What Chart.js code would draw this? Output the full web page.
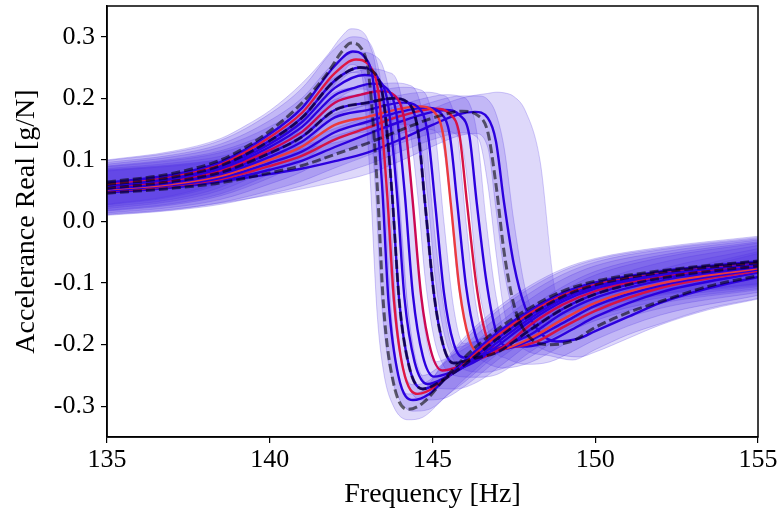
<!DOCTYPE html>
<html><head><meta charset="utf-8">
<script src="https://cdn.jsdelivr.net/npm/chart.js@4.4.0/dist/chart.umd.min.js"></script>
<style>html,body{margin:0;padding:0;background:#fff}#wrap{width:781px;height:513px}</style>
</head><body><div id="wrap"><canvas id="c" width="781" height="513"></canvas></div>
<script>
const xTicks = [135, 140, 145, 150, 155];
const yTicks = [-0.3, -0.2, -0.1, 0, 0.1, 0.2, 0.3];
const yTickLabels = ['-0.3', '-0.2', '-0.1', '0.0', '0.1', '0.2', '0.3'];

// D0 (dashed, lowest level)
const x_D0 = [135,137,138.5,139.3,140,141,141.8,142.2,142.5,142.8,143.05,143.3,143.5,143.8,144.25,144.7,145.3,146,147,148,149,150,152,155];
const y_D0 = [0.064,0.078,0.100,0.122,0.147,0.193,0.243,0.275,0.290,0.282,0.235,0.060,-0.140,-0.262,-0.305,-0.295,-0.260,-0.220,-0.175,-0.140,-0.113,-0.097,-0.080,-0.064];
const hi_D0 = [0.100,0.114,0.135,0.157,0.180,0.225,0.272,0.300,0.313,0.310,0.290,0.230,0.070,-0.190,-0.280,-0.275,-0.232,-0.187,-0.140,-0.104,-0.077,-0.060,-0.042,-0.024];
const lo_D0 = [0.028,0.042,0.065,0.087,0.113,0.160,0.208,0.238,0.255,0.245,0.100,-0.150,-0.245,-0.300,-0.322,-0.318,-0.290,-0.255,-0.210,-0.176,-0.150,-0.134,-0.117,-0.101];

const x_S1 = [135,137,138.5,140,141,142,142.55,142.9,143.2,143.45,143.65,143.95,144.4,144.9,145.5,146,147,148,149,150,152,155];
const y_S1 = [0.063,0.076,0.097,0.142,0.185,0.253,0.276,0.268,0.220,0.060,-0.130,-0.250,-0.290,-0.280,-0.250,-0.225,-0.180,-0.144,-0.116,-0.099,-0.081,-0.065];
const hi_S1 = [0.099,0.112,0.132,0.175,0.217,0.281,0.300,0.297,0.275,0.210,0.070,-0.180,-0.265,-0.258,-0.222,-0.192,-0.145,-0.108,-0.080,-0.062,-0.044,-0.026];
const lo_S1 = [0.027,0.040,0.062,0.108,0.152,0.218,0.242,0.235,0.090,-0.140,-0.230,-0.285,-0.308,-0.305,-0.280,-0.260,-0.215,-0.180,-0.152,-0.136,-0.118,-0.102];

const x_S2 = [135,137,138.5,140,141,142,142.65,143.05,143.35,143.6,143.82,144.1,144.55,145.1,145.7,146.3,147,148,149,150,152,155];
const y_S2 = [0.061,0.074,0.094,0.137,0.177,0.241,0.263,0.254,0.205,0.050,-0.130,-0.240,-0.280,-0.268,-0.240,-0.215,-0.185,-0.148,-0.119,-0.101,-0.082,-0.066];

const x_S3 = [135,137,138.5,140,141,142,142.78,143.2,143.5,143.75,143.98,144.28,144.7,145.3,146,147,148,149,150,152,155];
const y_S3 = [0.060,0.072,0.091,0.131,0.169,0.229,0.250,0.242,0.195,0.050,-0.130,-0.235,-0.272,-0.258,-0.232,-0.190,-0.152,-0.122,-0.103,-0.083,-0.067];
const hi_S3 = [0.096,0.108,0.126,0.164,0.201,0.258,0.275,0.270,0.248,0.180,0.040,-0.160,-0.250,-0.232,-0.200,-0.155,-0.116,-0.086,-0.066,-0.046,-0.028];
const lo_S3 = [0.024,0.036,0.056,0.097,0.136,0.195,0.215,0.205,0.090,-0.110,-0.210,-0.270,-0.290,-0.288,-0.267,-0.225,-0.188,-0.158,-0.140,-0.120,-0.104];

const x_S4 = [135,137,138.5,140,141,142,142.92,143.35,143.65,143.9,144.14,144.45,144.85,145.5,146.2,147,148,149,150,152,155];
const y_S4 = [0.059,0.071,0.089,0.126,0.162,0.217,0.238,0.230,0.185,0.050,-0.125,-0.228,-0.264,-0.250,-0.228,-0.196,-0.157,-0.126,-0.106,-0.085,-0.068];

const x_S5 = [135,137,138.5,140,141,142,142.6,143.15,143.6,143.9,144.14,144.4,144.7,145.05,145.7,146.4,147,148,149,150,152,155];
const y_S5 = [0.057,0.069,0.086,0.121,0.154,0.205,0.217,0.224,0.216,0.172,0.050,-0.120,-0.218,-0.252,-0.242,-0.225,-0.202,-0.162,-0.130,-0.109,-0.087,-0.069];
const hi_S5 = [0.093,0.105,0.121,0.154,0.186,0.234,0.243,0.248,0.243,0.230,0.170,0.030,-0.150,-0.228,-0.215,-0.192,-0.167,-0.126,-0.094,-0.072,-0.050,-0.030];
const lo_S5 = [0.021,0.033,0.051,0.087,0.121,0.171,0.183,0.190,0.178,0.070,-0.090,-0.200,-0.255,-0.270,-0.272,-0.260,-0.238,-0.198,-0.166,-0.146,-0.124,-0.106];

const x_S6 = [135,137,138.5,140,141,142,142.8,143.4,143.85,144.15,144.38,144.65,144.95,145.3,146,146.6,147.2,148,149,150,152,155];
const y_S6 = [0.056,0.067,0.083,0.116,0.146,0.193,0.206,0.212,0.204,0.160,0.040,-0.120,-0.210,-0.242,-0.232,-0.220,-0.203,-0.168,-0.135,-0.113,-0.089,-0.070];

const x_S7 = [135,137,138.5,140,141,142,143,143.8,144.25,144.55,144.77,145.05,145.35,145.65,146.3,147,148,149,150,152,155];
const y_S7 = [0.054,0.065,0.080,0.111,0.138,0.181,0.193,0.200,0.193,0.148,0.030,-0.120,-0.205,-0.230,-0.222,-0.212,-0.176,-0.142,-0.118,-0.092,-0.072];
const hi_S7 = [0.090,0.101,0.115,0.144,0.170,0.210,0.220,0.225,0.222,0.205,0.150,-0.010,-0.140,-0.205,-0.195,-0.178,-0.140,-0.106,-0.081,-0.055,-0.033];
const lo_S7 = [0.018,0.029,0.045,0.077,0.105,0.147,0.158,0.165,0.155,0.040,-0.090,-0.190,-0.235,-0.250,-0.253,-0.248,-0.212,-0.178,-0.155,-0.129,-0.109];

const x_S8 = [135,137,138.5,140,141,142,143,144.1,144.55,144.85,145.08,145.35,145.65,145.95,146.6,147.3,148,149,150,152,155];
const y_S8 = [0.053,0.063,0.077,0.105,0.130,0.169,0.181,0.193,0.186,0.145,0.030,-0.115,-0.198,-0.221,-0.215,-0.200,-0.184,-0.149,-0.124,-0.096,-0.074];
const hi_S8 = [0.089,0.099,0.112,0.138,0.162,0.198,0.208,0.218,0.215,0.200,0.145,0.000,-0.140,-0.198,-0.188,-0.166,-0.148,-0.113,-0.087,-0.059,-0.035];
const lo_S8 = [0.017,0.027,0.042,0.071,0.097,0.135,0.146,0.158,0.148,0.040,-0.090,-0.180,-0.225,-0.240,-0.245,-0.236,-0.220,-0.185,-0.161,-0.133,-0.111];

const x_S9 = [135,137,138.5,140,141,142,143,144,144.6,145.05,145.33,145.56,145.83,146.12,146.4,147,148,149,150,152,155];
const y_S9 = [0.052,0.061,0.074,0.100,0.122,0.157,0.170,0.183,0.187,0.178,0.140,0.030,-0.110,-0.190,-0.212,-0.210,-0.190,-0.159,-0.132,-0.101,-0.076];

const x_S10 = [135,137,138.5,140,141,142,143,144,144.8,145.25,145.53,145.76,146.03,146.32,146.6,147.2,148,149,150,152,155];
const y_S10 = [0.050,0.059,0.071,0.095,0.114,0.145,0.162,0.178,0.185,0.176,0.140,0.030,-0.105,-0.185,-0.208,-0.207,-0.193,-0.165,-0.137,-0.104,-0.078];
const hi_S10 = [0.086,0.095,0.106,0.128,0.146,0.175,0.190,0.205,0.210,0.206,0.195,0.145,0.000,-0.130,-0.185,-0.180,-0.158,-0.129,-0.100,-0.067,-0.039];
const lo_S10 = [0.014,0.023,0.036,0.061,0.081,0.111,0.127,0.143,0.150,0.138,0.040,-0.090,-0.170,-0.215,-0.228,-0.238,-0.229,-0.201,-0.174,-0.141,-0.115];

const x_S11 = [135,137,138.5,140,141,142,143,144,145.1,145.55,145.83,146.06,146.34,146.63,146.9,147.5,148.2,149,150,152,155];
const y_S11 = [0.049,0.058,0.069,0.090,0.107,0.133,0.152,0.171,0.183,0.174,0.140,0.030,-0.100,-0.182,-0.205,-0.204,-0.195,-0.172,-0.145,-0.108,-0.080];

const x_S12 = [135,137,138.5,140,141,142,143,144,145,145.4,145.85,146.13,146.36,146.65,146.95,147.25,147.9,148.6,149.3,150,152,155];
const y_S12 = [0.048,0.056,0.066,0.084,0.099,0.121,0.142,0.162,0.178,0.181,0.172,0.140,0.030,-0.095,-0.178,-0.202,-0.203,-0.194,-0.175,-0.155,-0.115,-0.083];
const hi_S12 = [0.084,0.092,0.101,0.117,0.131,0.151,0.170,0.189,0.203,0.206,0.203,0.192,0.145,0.000,-0.120,-0.178,-0.175,-0.160,-0.140,-0.118,-0.078,-0.044];
const lo_S12 = [0.012,0.020,0.031,0.050,0.066,0.087,0.107,0.127,0.143,0.146,0.134,0.040,-0.085,-0.165,-0.212,-0.222,-0.232,-0.228,-0.211,-0.192,-0.152,-0.120];

const x_D13 = [135,137,138.5,140,141,142,143,144,145,145.9,146.4,146.7,146.95,147.2,147.5,147.9,148.6,149.3,150,151,152,153.5,155];
const y_D13 = [0.046,0.054,0.063,0.079,0.091,0.109,0.127,0.148,0.168,0.179,0.172,0.145,0.060,-0.050,-0.135,-0.183,-0.200,-0.194,-0.172,-0.148,-0.130,-0.105,-0.088];
const hi_D13 = [0.082,0.090,0.098,0.112,0.123,0.139,0.155,0.175,0.194,0.204,0.204,0.198,0.175,0.120,0.000,-0.120,-0.175,-0.160,-0.135,-0.111,-0.093,-0.068,-0.049];
const lo_D13 = [0.010,0.018,0.028,0.045,0.058,0.075,0.092,0.113,0.133,0.144,0.135,0.060,-0.050,-0.145,-0.190,-0.210,-0.218,-0.225,-0.208,-0.184,-0.166,-0.141,-0.125];

const x_S14 = [135,137,138.5,140,141,142,143,144,145,145.8,146.3,146.7,146.95,147.2,147.5,147.85,148.3,148.8,149.5,150,151,152,153.5,155];
const y_S14 = [0.047,0.055,0.065,0.077,0.086,0.098,0.112,0.133,0.157,0.174,0.178,0.168,0.130,0.030,-0.070,-0.140,-0.180,-0.195,-0.190,-0.178,-0.155,-0.132,-0.108,-0.090];
const hi_S14 = [0.083,0.091,0.100,0.110,0.118,0.128,0.140,0.160,0.183,0.199,0.205,0.208,0.210,0.209,0.203,0.180,0.100,-0.120,-0.160,-0.143,-0.119,-0.096,-0.072,-0.052];
const lo_S14 = [0.011,0.019,0.030,0.043,0.053,0.064,0.077,0.098,0.122,0.139,0.143,0.120,0.020,-0.080,-0.150,-0.190,-0.205,-0.215,-0.220,-0.212,-0.190,-0.168,-0.143,-0.126];

const BLUE = 'rgb(44,0,222)';
const REDS = ['rgb(224,22,66)', 'rgb(204,8,84)', 'rgb(236,58,62)', 'rgb(214,20,70)'];
const curves = [
  {x:x_D0, y:y_D0, hi:hi_D0, lo:lo_D0, color:null, dash:true},
  {x:x_S1, y:y_S1, hi:hi_S1, lo:lo_S1, color:BLUE},
  {x:x_S2, y:y_S2, color:REDS[0]},
  {x:x_S3, y:y_S3, hi:hi_S3, lo:lo_S3, color:BLUE, dash:true},
  {x:x_S4, y:y_S4, color:BLUE},
  {x:x_S5, y:y_S5, hi:hi_S5, lo:lo_S5, color:BLUE},
  {x:x_S6, y:y_S6, color:REDS[1]},
  {x:x_S7, y:y_S7, hi:hi_S7, lo:lo_S7, color:BLUE, dash:true},
  {x:x_S8, y:y_S8, hi:hi_S8, lo:lo_S8, color:BLUE},
  {x:x_S9, y:y_S9, color:REDS[2]},
  {x:x_S10, y:y_S10, hi:hi_S10, lo:lo_S10, color:BLUE},
  {x:x_S11, y:y_S11, color:REDS[3]},
  {x:x_S12, y:y_S12, hi:hi_S12, lo:lo_S12, color:BLUE},
  {x:x_D13, y:y_D13, hi:hi_D13, lo:lo_D13, color:null, dash:true},
  {x:x_S14, y:y_S14, hi:hi_S14, lo:lo_S14, color:BLUE}
];

const pts = (xs, ys) => xs.map((v, i) => ({x: v, y: ys[i]}));
const BAND = 'rgba(80,50,228,0.19)';
const EDGE = 'rgba(80,50,228,0.25)';
const common = {pointRadius: 0, pointHoverRadius: 0, cubicInterpolationMode: 'monotone'};
const datasets = [];
curves.forEach(c => {
  if (!c.hi) return;
  const hiIdx = datasets.length;
  datasets.push(Object.assign({data: pts(c.x, c.hi), borderColor: EDGE, borderWidth: 1, fill: false, order: 30}, common));
  datasets.push(Object.assign({data: pts(c.x, c.lo), borderColor: EDGE, borderWidth: 1, backgroundColor: BAND, fill: hiIdx, order: 30}, common));
});
curves.forEach(c => {
  if (!c.color) return;
  datasets.push(Object.assign({data: pts(c.x, c.y), borderColor: c.color, borderWidth: 2.4, fill: false, order: 20}, common));
});
curves.forEach(c => {
  if (!c.dash) return;
  datasets.push(Object.assign({data: pts(c.x, c.y), borderColor: 'rgba(0,0,0,0.58)', borderWidth: 3, borderDash: [9, 4], fill: false, order: 10}, common));
});

const FONT = "'Liberation Serif', 'DejaVu Serif', serif";
const frame = {
  id: 'frame',
  beforeDraw(chart) { const c = chart.ctx; c.save(); c.fillStyle = '#fff'; c.fillRect(0, 0, chart.width, chart.height); c.restore(); },
  afterDraw(chart) {
    const {ctx, chartArea: a} = chart;
    ctx.save(); ctx.strokeStyle = '#000'; ctx.lineWidth = 1.5;
    ctx.strokeRect(a.left, a.top, a.right - a.left, a.bottom - a.top);
    ctx.restore();
  }
};

new Chart(document.getElementById('c'), {
  type: 'line',
  data: {datasets},
  plugins: [frame],
  options: {
    responsive: false, animation: false, devicePixelRatio: 1,
    layout: {padding: {top: 6, right: 23, left: 0, bottom: 0}},
    plugins: {legend: {display: false}, tooltip: {enabled: false}},
    events: [],
    scales: {
      x: {
        type: 'linear', min: 135, max: 155,
        afterBuildTicks: s => { s.ticks = xTicks.map(v => ({value: v})); },
        afterFit: s => { s.height = 76; s.paddingLeft = 0; s.paddingRight = 0; },
        ticks: {callback: v => String(v), font: {family: FONT, size: 26}, color: '#000', padding: 2, maxRotation: 0, autoSkip: false},
        grid: {drawOnChartArea: false, drawTicks: true, tickLength: 6, color: '#000', lineWidth: 1.2},
        border: {display: true, color: '#000', width: 1.5},
        title: {display: true, text: 'Frequency [Hz]', font: {family: FONT, size: 28}, color: '#000', padding: {top: 0, bottom: 2}}
      },
      y: {
        type: 'linear', min: -0.35, max: 0.35,
        afterBuildTicks: s => { s.ticks = yTicks.map(v => ({value: v})); },
        afterFit: s => { s.width = 107; s.paddingTop = 0; s.paddingBottom = 0; },
        ticks: {callback: (v, i) => yTickLabels[i], font: {family: FONT, size: 26}, color: '#000', padding: 6, autoSkip: false},
        grid: {drawOnChartArea: false, drawTicks: true, tickLength: 6, color: '#000', lineWidth: 1.2},
        border: {display: true, color: '#000', width: 1.5},
        title: {display: true, text: 'Accelerance Real [g/N]', font: {family: FONT, size: 28}, color: '#000', padding: {top: 10, bottom: 0}}
      }
    }
  }
});
</script></body></html>
